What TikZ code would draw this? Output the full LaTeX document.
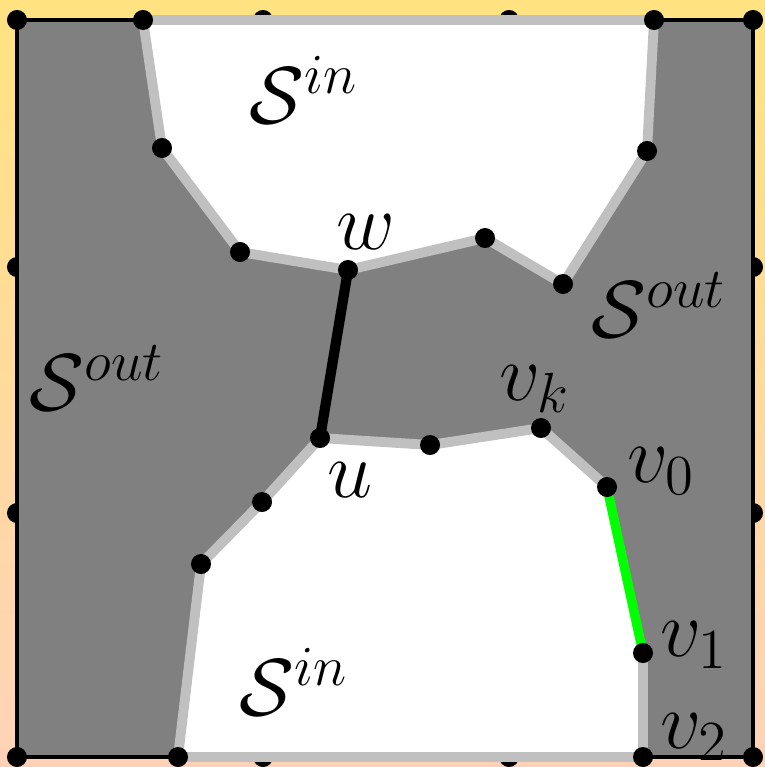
\documentclass[tikz,border=0pt]{standalone}
\usepackage{fix-cm}
\usepackage{amsmath,amssymb}
\usepackage{tikz}
\usetikzlibrary{positioning}
\definecolor{BgTop}{HTML}{FFE381}
\definecolor{BgBottom}{HTML}{FFD2B8}
\definecolor{Outer}{HTML}{808080}
\definecolor{Rim}{HTML}{C0C0C0}
\definecolor{Cut}{HTML}{00FF00}
\tikzset{
  vtx/.style={circle,fill=black,inner sep=0pt,minimum size=.2cm},
  frame/.style={fill=Outer,draw=black,line width=.9pt},
  inner/.style={fill=white},
  rim/.style={draw=Rim,line width=2.8pt,line join=round},
  chord/.style={line width=2.9pt,line cap=round},
  lbl/.style={font=\fontsize{23}{27}\selectfont,inner sep=0pt}
}

\begin{document}
\begin{tikzpicture}[x=.01cm,y=-.01cm]
  \shade[top color=BgTop,bottom color=BgBottom] (0,0) rectangle (765,767);
  \useasboundingbox (0,0) rectangle (765,767);

  % grid points on the frame
  \foreach \x [count=\i] in {263,509} {
    \node[vtx] (gt\i) at (\x,20) {};
    \node[vtx] (gb\i) at (\x,757) {};
  }
  \foreach \y [count=\i] in {267,513} {
    \node[vtx] (gl\i) at (17,\y) {};
    \node[vtx] (gr\i) at (753,\y) {};
  }
  \draw[frame] (17,20) rectangle (753,757);

  % upper inner region
  \coordinate (t1) at (143,20);
  \coordinate (t2) at (654,20);
  \coordinate (t3) at (647,151);
  \coordinate (t4) at (563,284);
  \coordinate (t5) at (485,238);
  \coordinate (w)  at (348,270);
  \coordinate (t6) at (240,252);
  \coordinate (t7) at (162,148);
  \fill[inner] (t1) -- (t2) -- (t3) -- (t4) -- (t5) -- (w) -- (t6) -- (t7) -- cycle;
  \draw[rim] (t1) -- (t2) -- (t3) -- (t4) -- (t5) -- (w) -- (t6) -- (t7) -- cycle;

  % lower inner region
  \coordinate (b1) at (178,757);
  \coordinate (b2) at (201,564);
  \coordinate (b3) at (262,502);
  \coordinate (u)  at (320,438);
  \coordinate (b4) at (430,445);
  \coordinate (vk) at (541,428);
  \coordinate (v0) at (607,487);
  \coordinate (v1) at (643,653);
  \coordinate (v2) at (643,757);
  \fill[inner] (b1) -- (b2) -- (b3) -- (u) -- (b4) -- (vk) -- (v0) -- (v1) -- (v2) -- cycle;
  \draw[rim] (v1) -- (v2) -- (b1) -- (b2) -- (b3) -- (u) -- (b4) -- (vk) -- (v0);

  \draw[chord] (u) -- (w);
  \draw[chord,draw=Cut,line width=2.7pt] (v0) -- (v1);

  % corner and region vertices
  \foreach \p in {t1,t2,t3,t4,t5,w,t6,t7,b1,b2,b3,u,b4,vk,v0,v1,v2}
    \node[vtx] at (\p) {};
  \node[vtx] (c1) at (17,20) {};
  \node[vtx] (c2) at (753,20) {};
  \node[vtx] (c3) at (17,757) {};
  \node[vtx] (c4) at (753,757) {};

  % labels
  \node[lbl] (inTop) at (304,90) {$\mathcal{S}^{in}$};
  \node[lbl] (inBot) at (294,682) {$\mathcal{S}^{in}$};
  \node[lbl] (outLeft) at (97,378) {$\mathcal{S}^{out}$};
  \node[lbl] (outRight) at (659,305) {$\mathcal{S}^{out}$};
  \node[lbl] (lw) at (366,232) {$w$};
  \node[lbl] (lu) at (350,480) {$u$};
  \node[lbl] (lvk) at (535,389) {$v_k$};
  \node[lbl] (lv0) at (661,471) {$v_0$};
  \node[lbl] (lv1) at (694,645) {$v_1$};
  \node[lbl] (lv2) at (694,737) {$v_2$};
\end{tikzpicture}
\end{document}
